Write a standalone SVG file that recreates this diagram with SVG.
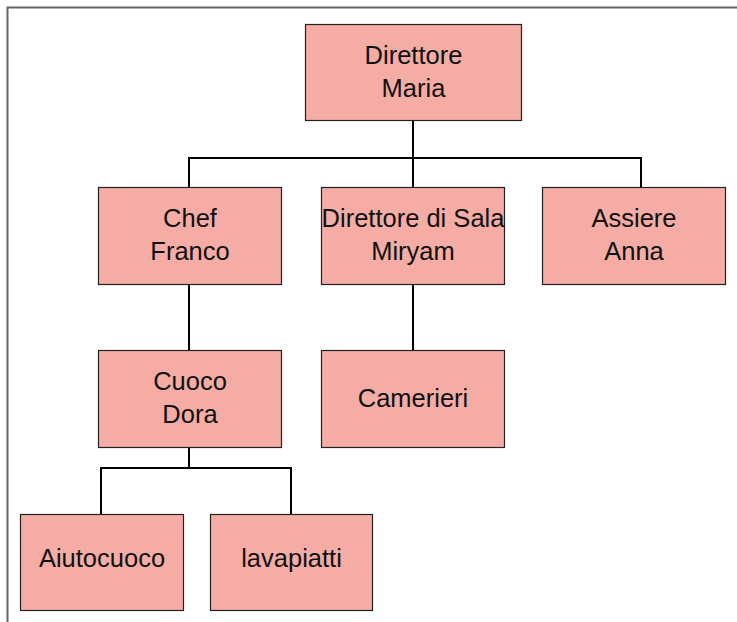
<svg xmlns="http://www.w3.org/2000/svg" width="737" height="622" viewBox="0 0 737 622">
<style>
.box{fill:#F4ACA4;stroke:#222;stroke-width:1.2}
.t{font-family:"Liberation Sans",Arial,sans-serif;font-size:25.5px;fill:#111;text-anchor:middle}
.c{fill:none;stroke:#000;stroke-width:2}
</style>
<rect width="737" height="622" fill="#fff"/>
<path d="M7.5,622 V7.5 H737" fill="none" stroke="#666" stroke-width="2"/>
<g id="connectors">
<path class="c" d="M413,121 V188 M189,188 V158 H641 V188 M189,285 V351 M413,285 V351 M189,447 V468 M101,514 V468 H291 V514"/>
</g>
<g id="n-direttore"><rect class="box" x="305.5" y="24.5" width="216" height="96"/><text class="t" x="413.5" y="64">Direttore</text><text class="t" x="413.5" y="97">Maria</text></g>
<g id="n-chef"><rect class="box" x="98.5" y="187.5" width="183" height="97"/><text class="t" x="190" y="227">Chef</text><text class="t" x="190" y="260">Franco</text></g>
<g id="n-sala"><rect class="box" x="321.5" y="187.5" width="183" height="97"/><text class="t" x="413" y="227">Direttore di Sala</text><text class="t" x="413" y="260">Miryam</text></g>
<g id="n-assiere"><rect class="box" x="542.5" y="187.5" width="183" height="97"/><text class="t" x="634" y="227">Assiere</text><text class="t" x="634" y="260">Anna</text></g>
<g id="n-cuoco"><rect class="box" x="98.5" y="350.5" width="183" height="97"/><text class="t" x="190" y="390">Cuoco</text><text class="t" x="190" y="423">Dora</text></g>
<g id="n-camerieri"><rect class="box" x="321.5" y="350.5" width="183" height="97"/><text class="t" x="413" y="407">Camerieri</text></g>
<g id="n-aiutocuoco"><rect class="box" x="20.5" y="514.5" width="163" height="96"/><text class="t" x="102" y="567">Aiutocuoco</text></g>
<g id="n-lavapiatti"><rect class="box" x="210.5" y="514.5" width="162" height="96"/><text class="t" x="291.5" y="567">lavapiatti</text></g>
</svg>
